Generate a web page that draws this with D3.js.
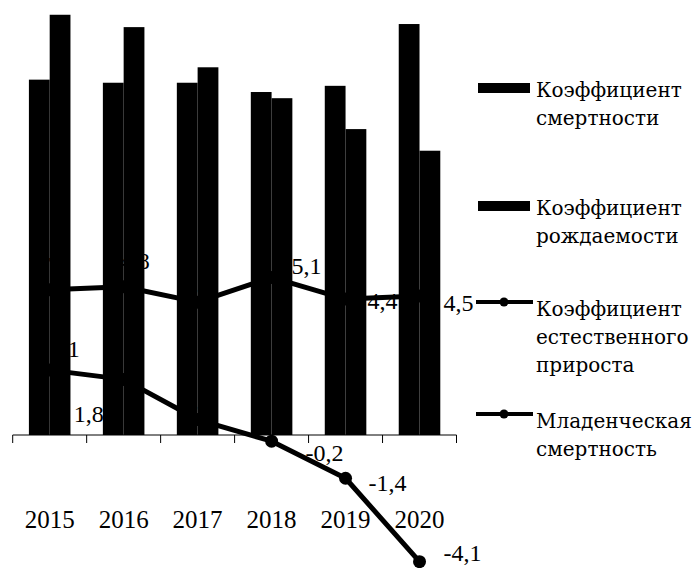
<!DOCTYPE html>
<html>
<head>
<meta charset="utf-8">
<script src="https://cdn.jsdelivr.net/npm/d3@7"></script>
<style>
  body { margin: 0; background: #fff; }
  svg { display: block; }
  text { font-family: "Liberation Serif", "Times New Roman", serif; fill: #000; }
  .legend text { font-family: "DejaVu Serif", "Liberation Serif", serif; }
</style>
</head>
<body>
<script>
(function(){

	var years = ["2015", "2016", "2017", "2018", "2019", "2020"];
	var deathRate = [11.5, 11.4, 11.4, 11.1, 11.3, 13.3];
	var birthRate = [13.6, 13.2, 11.9, 10.9, 9.9, 9.2];
	var naturalIncrease = [2.1, 1.8, 0.5, -0.2, -1.4, -4.1];
	var infantMortality = [4.7, 4.8, 4.3, 5.1, 4.4, 4.5];
	var legendNames = [
		["Коэффициент", "смертности"],
		["Коэффициент", "рождаемости"],
		["Коэффициент", "естественного", "прироста"],
		["Младенческая", "смертность"]
	];

	const W = 696, H = 568;
	const ZERO_Y = 435, PX_PER_UNIT = 30.9;
	const LINE_W = 5, MARKER_R = 6.5;

	// where each data label sits relative to its point (hand-placed in the original)
	var niLabelOffsets = [[0, -22], [-50, 34], [-17, -20], [34, 11], [23, 4], [24, -9]];
	var imLabelOffsets = [[-20, -25], [-4, -26], [-17, -20], [20, -12], [22, 2], [24, 7]];

	var x = d3.scaleBand().domain(years).range([12.7, 456.5]);
	var xSub = d3.scaleBand().domain(["death", "birth"])
		.range([0, x.bandwidth()]).paddingOuter(0.78).paddingInner(0);
	var y = d3.scaleLinear()
		.domain([-4.5, 14])
		.range([ZERO_Y + 4.5 * PX_PER_UNIT, ZERO_Y - 14 * PX_PER_UNIT]);

	var fmt = function(v){ return v.toFixed(1).replace(".", ","); };
	var cx = function(d, i){ return x(years[i]) + x.bandwidth() / 2; };

	var svg = d3.select("body").append("svg")
		.attr("width", W).attr("height", H);

	// lines go underneath the bars, as in the original
	var line = d3.line().x(cx).y(function(d){ return y(d); });

	[naturalIncrease, infantMortality].forEach(function(series){
		svg.append("path").datum(series)
			.attr("d", line)
			.attr("fill", "none").attr("stroke", "#000")
			.attr("stroke-width", LINE_W).attr("stroke-linejoin", "round");
		svg.append("g").selectAll("circle").data(series).enter().append("circle")
			.attr("cx", cx).attr("cy", function(d){ return y(d); })
			.attr("r", MARKER_R).attr("fill", "#000");
	});

	function labels(series, offsets){
		svg.append("g").selectAll("text").data(series).enter().append("text")
			.attr("x", function(d, i){ return cx(d, i) + offsets[i][0]; })
			.attr("y", function(d, i){ return y(d) + offsets[i][1]; })
			.attr("dy", "0.35em")
			.attr("font-size", 24)
			.text(fmt);
	}
	labels(naturalIncrease, niLabelOffsets);
	labels(infantMortality, imLabelOffsets);

	// bars
	var bars = svg.append("g");
	[["death", deathRate], ["birth", birthRate]].forEach(function(s){
		bars.selectAll("rect." + s[0]).data(s[1]).enter().append("rect")
			.attr("class", s[0])
			.attr("x", function(d, i){ return x(years[i]) + xSub(s[0]); })
			.attr("y", function(d){ return y(d); })
			.attr("width", xSub.bandwidth())
			.attr("height", function(d){ return y(0) - y(d); })
			.attr("fill", "#000");
	});

	// category axis: baseline with boundary ticks, year labels below
	var axis = svg.append("g").attr("transform", "translate(0," + ZERO_Y + ")");
	axis.append("line")
		.attr("x1", x.range()[0]).attr("x2", x.range()[1])
		.attr("stroke", "#000").attr("stroke-width", 1);
	axis.selectAll("line.tick").data(years.concat(["end"])).enter().append("line")
		.attr("class", "tick")
		.attr("x1", function(d, i){ return x.range()[0] + i * x.step(); })
		.attr("x2", function(d, i){ return x.range()[0] + i * x.step(); })
		.attr("y1", 0).attr("y2", 8)
		.attr("stroke", "#000").attr("stroke-width", 1);

	var xAxis = d3.axisBottom(x).tickSize(0).tickPadding(75);
	var ax = svg.append("g").attr("transform", "translate(0," + ZERO_Y + ")").call(xAxis);
	ax.select(".domain").remove();
	ax.selectAll("text")
		.attr("font-size", 25)
		.attr("font-family", "Liberation Serif, serif")
		.attr("fill", "#000");

	// legend
	var legend = svg.append("g").attr("class", "legend");
	var legendRows = [
		{ top: 97, kind: "bar" },
		{ top: 215, kind: "bar" },
		{ top: 316, kind: "line" },
		{ top: 428, kind: "line" }
	];
	legendRows.forEach(function(r, k){
		var g = legend.append("g");
		if (r.kind === "bar") {
			g.append("rect").attr("x", 478).attr("y", r.top - 14)
				.attr("width", 52).attr("height", 10).attr("fill", "#000");
		} else {
			g.append("line").attr("x1", 476).attr("x2", 533)
				.attr("y1", r.top - 14).attr("y2", r.top - 14)
				.attr("stroke", "#000").attr("stroke-width", 4);
			g.append("circle").attr("cx", 504).attr("cy", r.top - 14)
				.attr("r", 4.5).attr("fill", "#000");
		}
		legendNames[k].forEach(function(t, j){
			g.append("text").attr("x", 536).attr("y", r.top + j * 28)
				.attr("font-size", 20).text(t);
		});
	});

})();
</script>
</body>
</html>
